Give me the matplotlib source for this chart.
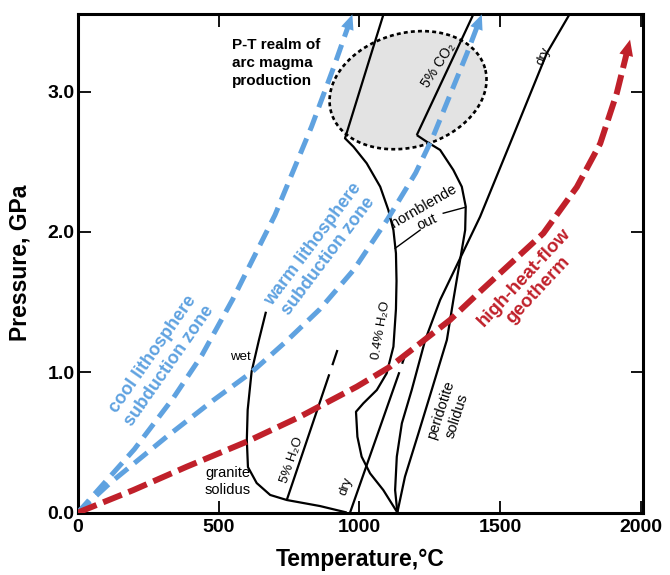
import numpy as np
import matplotlib
matplotlib.use("Agg")
import matplotlib.pyplot as plt

plt.rcParams['font.family'] = ['Liberation Sans', 'DejaVu Sans']

BLUE = '#5fa2e0'
RED = '#c0202a'

# ---------------- data (T in degC, P in GPa) ----------------
cool_T = [0, 200, 340, 440, 550, 700, 830, 910, 975]
cool_P = [0, 0.45, 0.82, 1.12, 1.52, 2.12, 2.75, 3.18, 3.55]

warm_T = [0, 114, 315, 481, 617, 740, 860, 980, 1100, 1200, 1260, 1382, 1435]
warm_P = [0, 0.21, 0.54, 0.80, 1.00, 1.22, 1.45, 1.73, 2.09, 2.42, 2.67, 3.27, 3.55]

hot_T = [0, 197, 386, 600, 789, 991, 1109, 1322, 1435, 1654, 1773, 1856, 1915, 1962]
hot_P = [0, 0.16, 0.326, 0.505, 0.683, 0.897, 1.039, 1.372, 1.586, 1.99, 2.32, 2.63, 2.99, 3.37]

granite_T = [668, 643, 617, 603, 600, 604, 635, 683, 742, 860, 955]
granite_P = [1.431, 1.229, 1.004, 0.731, 0.517, 0.324, 0.21, 0.125, 0.089, 0.046, 0.0]

h2o5_lo_T = [742, 893]
h2o5_lo_P = [0.089, 0.985]
h2o5_hi_T = [904, 922]
h2o5_hi_P = [1.05, 1.158]

drybas_lo_T = [967, 1142]
drybas_lo_P = [0.0, 1.0]
drybas_hi_T = [1152, 1164]
drybas_hi_P = [1.06, 1.13]

h2o04_T = [1135, 1085, 1038, 1008, 993, 988, 1014, 1062, 1097, 1121, 1130, 1132,
           1130, 1121, 1103, 1074, 1026, 979, 949, 1037, 1085]
h2o04_P = [0.0, 0.16, 0.279, 0.398, 0.54, 0.718, 0.778, 0.873, 0.992, 1.182, 1.45, 1.65,
           1.847, 2.013, 2.156, 2.322, 2.489, 2.607, 2.667, 3.237, 3.546]

hbl_T = [1135, 1162, 1210, 1257, 1311, 1334, 1358, 1376, 1378, 1364, 1334, 1287, 1239, 1204]
hbl_P = [0.0, 0.255, 0.565, 0.873, 1.23, 1.515, 1.8, 2.013, 2.18, 2.322, 2.441, 2.584, 2.643, 2.69]

co2_T = [1204, 1357, 1404]
co2_P = [2.69, 3.344, 3.546]

dryper_T = [1135, 1127, 1133, 1151, 1186, 1234, 1287, 1429, 1536, 1666, 1749]
dryper_P = [0.0, 0.16, 0.398, 0.636, 0.873, 1.23, 1.515, 2.108, 2.632, 3.273, 3.558]

hbl_tick_l_T = [1127, 1216]
hbl_tick_l_P = [1.883, 2.013]
hbl_tick_r_T = [1298, 1376]
hbl_tick_r_P = [2.133, 2.175]

ell_center = (1173, 3.01)
ell_a_px, ell_b_px, ell_angle = 80, 57, 16

x_ticks = [0, 500, 1000, 1500, 2000]
y_ticks = [0.0, 1.0, 2.0, 3.0]

# ---------------- figure ----------------
fig = plt.figure(figsize=(6.7, 5.75), dpi=100)
ax = fig.add_axes([78 / 670, 1 - 512.5 / 575, 565 / 670, 498.5 / 575])
ax.set_xlim(0, 2008)
ax.set_ylim(0, 3.553)

# ellipse (P-T realm)
c = ax.transData.transform(ell_center)
t = np.linspace(0, 2 * np.pi, 300)
ang = np.deg2rad(ell_angle)
ex = c[0] + ell_a_px * np.cos(t) * np.cos(ang) - ell_b_px * np.sin(t) * np.sin(ang)
ey = c[1] + ell_a_px * np.cos(t) * np.sin(ang) + ell_b_px * np.sin(t) * np.cos(ang)
epts = ax.transData.inverted().transform(np.column_stack([ex, ey]))
ax.fill(epts[:, 0], epts[:, 1], color='#e3e3e3', zorder=1, lw=0)
ax.plot(epts[:, 0], epts[:, 1], color='black', lw=1.9, ls=(0, (1.5, 1.2)), zorder=2)

# black solidus lines
blk = dict(color='black', lw=1.6, zorder=3, solid_capstyle='butt')
for T, P in [(granite_T, granite_P), (h2o5_lo_T, h2o5_lo_P), (h2o5_hi_T, h2o5_hi_P),
             (drybas_lo_T, drybas_lo_P), (drybas_hi_T, drybas_hi_P),
             (h2o04_T, h2o04_P), (hbl_T, hbl_P), (co2_T, co2_P), (dryper_T, dryper_P)]:
    ax.plot(T, P, **blk)
ax.plot(hbl_tick_l_T, hbl_tick_l_P, color='black', lw=1.0, zorder=3)
ax.plot(hbl_tick_r_T, hbl_tick_r_P, color='black', lw=1.0, zorder=3)


def dashed_arrow(T, P, color, lw, dash, head_len, head_w):
    pts = ax.transData.transform(np.column_stack([T, P]))
    tip = pts[-1]
    d = pts[-1] - pts[-2]
    d = d / np.hypot(*d)
    base = tip - d * head_len
    perp = np.array([-d[1], d[0]])
    line_pts = np.vstack([pts[:-1], base + d * 1.0])
    lp = ax.transData.inverted().transform(line_pts)
    ax.plot(lp[:, 0], lp[:, 1], color=color, lw=lw, ls=(0, dash), zorder=4,
            dash_capstyle='butt')
    tri = np.array([tip, base + perp * head_w / 2, base - perp * head_w / 2])
    tp = ax.transData.inverted().transform(tri)
    ax.fill(tp[:, 0], tp[:, 1], color=color, zorder=4, lw=0)


dashed_arrow(cool_T, cool_P, BLUE, 3.6, (3.3, 1.7), 15, 13)
dashed_arrow(warm_T, warm_P, BLUE, 3.6, (3.3, 1.7), 15, 13)
dashed_arrow(hot_T, hot_P, RED, 4.3, (3.35, 1.2), 16, 14)

# ---------------- texts ----------------
ax.text(548, 3.385, 'P-T realm of\narc magma\nproduction', ha='left', va='top',
        fontsize=11, fontweight='bold', linespacing=1.4, zorder=5)
ax.text(295, 1.087, 'cool lithosphere\nsubduction zone', color=BLUE, fontsize=13,
        fontweight='bold', rotation=55, ha='center', va='center',
        rotation_mode='anchor', linespacing=1.2)
ax.text(862, 1.87, 'warm lithosphere\nsubduction zone', color=BLUE, fontsize=13,
        fontweight='bold', rotation=53, ha='center', va='center',
        rotation_mode='anchor', linespacing=1.2)
ax.text(1610, 1.63, 'high-heat-flow\ngeotherm', color=RED, fontsize=13.5,
        fontweight='bold', rotation=47, ha='center', va='center',
        rotation_mode='anchor', linespacing=1.2)

small = dict(ha='center', va='center', rotation_mode='anchor', zorder=5)
ax.text(576, 1.107, 'wet', fontsize=9.5, **small)
ax.text(531, 0.221, 'granite\nsolidus', fontsize=10.5, linespacing=1.3, **small)
ax.text(760, 0.374, '5% H₂O', fontsize=9.5, rotation=71, **small)
ax.text(953, 0.184, 'dry', fontsize=9.5, rotation=70, **small)
ax.text(1077, 1.30, '0.4% H₂O', fontsize=9.5, rotation=80, **small)
ax.text(1318, 0.71, 'peridotite\nsolidus', fontsize=10.5, rotation=72,
        linespacing=1.2, **small)
ax.text(1281, 3.19, '5% CO₂', fontsize=10, rotation=57, **small)
ax.text(1653, 3.25, 'dry', fontsize=9.5, rotation=67, **small)
ax.text(1230, 2.18, 'hornblende', fontsize=10.5, rotation=30, **small)
ax.text(1242, 2.073, 'out', fontsize=10.5, rotation=25, **small)

# ---------------- axes styling ----------------
for s in ax.spines.values():
    s.set_linewidth(2.2)
ax.set_xticks(x_ticks)
ax.set_xticklabels([str(v) for v in x_ticks])
ax.set_yticks(y_ticks)
ax.set_yticklabels(['%.1f' % v for v in y_ticks])
ax.tick_params(direction='in', length=9, width=1.3, top=True, right=True,
               labelsize=14, pad=5)
ax.tick_params(axis='y', pad=2.5)
for lab in ax.get_xticklabels() + ax.get_yticklabels():
    lab.set_fontweight('bold')

ax.set_xlabel('Temperature,°C', fontsize=16.5, fontweight='bold')
ax.set_ylabel('Pressure, GPa', fontsize=16.5, fontweight='bold')
ax.xaxis.set_label_coords(0.5, -0.072)
ax.yaxis.set_label_coords(-0.082, 0.5)

fig.savefig('out.png', dpi=100)
